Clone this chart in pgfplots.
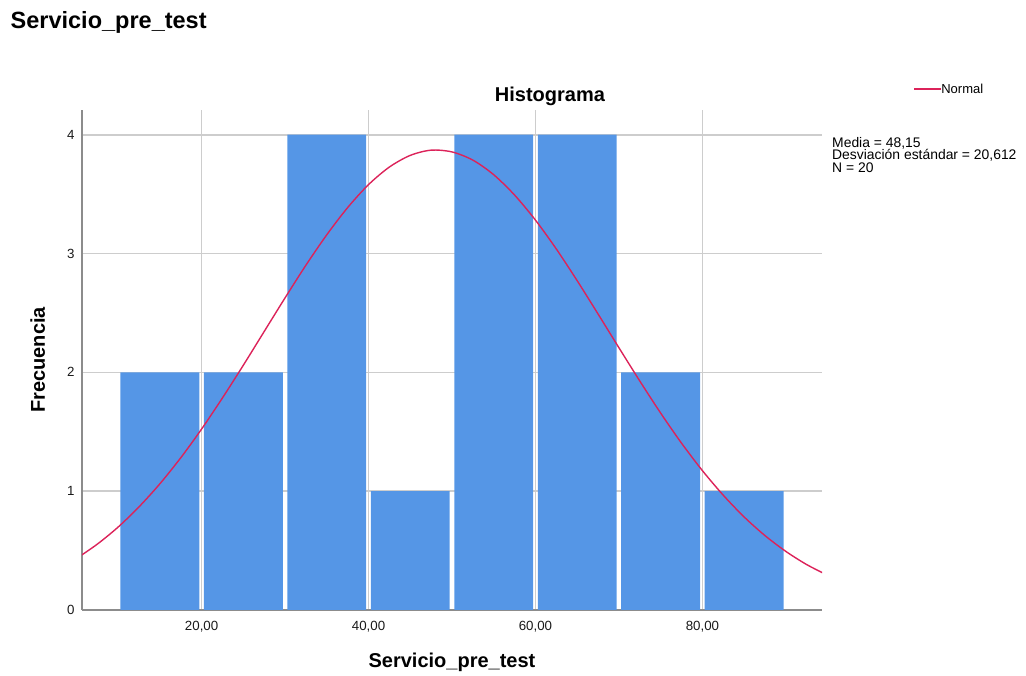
\documentclass[border=0pt]{standalone}
\usepackage{fontspec}
\setmainfont{Liberation Sans}
\usepackage{pgfplots}
\pgfplotsset{compat=1.18}
\definecolor{barblue}{RGB}{85,150,230}
\definecolor{curvered}{RGB}{220,35,90}
\definecolor{gridgray}{RGB}{205,205,205}
\definecolor{axisgray}{RGB}{140,140,140}
\begin{document}
\begin{tikzpicture}[x=1pt,y=1pt]
\path[use as bounding box] (0,0) rectangle (1026,676);
\begin{axis}[
  at={(82pt,66pt)}, anchor=south west,
  scale only axis, width=740pt, height=500pt,
  xmin=5.67, xmax=94.33, ymin=0, ymax=4.208,
  axis x line=bottom, axis y line=left,
  axis line style={-, draw=axisgray, line width=1.6pt},
  xtick={20,40,60,80},
  xticklabels={{20,00},{40,00},{60,00},{80,00}},
  ytick={0,1,2,3,4},
  major tick length=0pt,
  grid=major,
  major grid style={draw=gridgray, line width=1.6pt},
  tick label style={font=\fontsize{13.3}{15}\selectfont, text=black!90},
  /pgf/number format/assume math mode=true,
  xticklabel style={anchor=base, yshift=-20.7pt},
  yticklabel style={anchor=east, xshift=-4pt},
  title={Histograma},
  title style={at={(axis description cs:0.6324,1.004)}, anchor=base, font=\bfseries\fontsize{20}{24}\selectfont},
  xlabel={Servicio\_pre\_test},
  xlabel style={at={(axis description cs:0.5,-0.1146)}, anchor=base, font=\bfseries\fontsize{20}{24}\selectfont},
  ylabel={Frecuencia},
  ylabel style={at={(axis description cs:-0.05,0.5)}, anchor=base, font=\bfseries\fontsize{20}{24}\selectfont},
  legend style={at={(axis description cs:1.123,1.0414)}, anchor=west, draw=none, fill=none,
    inner sep=0pt, font=\fontsize{13}{15}\selectfont, cells={anchor=west},
    /tikz/every odd column/.append style={column sep=-2.5pt}},
  legend image code/.code={\draw[draw=curvered, line width=1.6pt] (0pt,0pt) -- (27pt,0pt);},
]
\addplot[ybar, bar width=9.45, fill=barblue, draw=none, forget plot]
  coordinates {(15,2) (25,2) (35,4) (45,1) (55,4) (65,4) (75,2) (85,1)};
\addplot[smooth, color=curvered, line width=1.4pt, no marks]
  coordinates {
  (5,0.433) (7.5,0.554) (10,0.698) (12.5,0.868) (15,1.062) (17.5,1.281)
  (20,1.523) (22.5,1.785) (25,2.060) (27.5,2.344) (30,2.627) (32.5,2.902)
  (35,3.158) (37.5,3.387) (40,3.580) (42.5,3.728) (45,3.826) (47.5,3.870)
  (50,3.855) (52.5,3.786) (55,3.663) (57.5,3.492) (60,3.281) (62.5,3.038)
  (65,2.771) (67.5,2.491) (70,2.207) (72.5,1.927) (75,1.657) (77.5,1.404)
  (80,1.173) (82.5,0.966) (85,0.783) (87.5,0.626) (90,0.493) (92.5,0.382)
  (95,0.292)};
\addlegendentry{Normal}
\end{axis}
\node[anchor=base west, inner sep=0pt, font=\bfseries\fontsize{23.5}{27}\selectfont] at (10.5,647) {Servicio\_pre\_test};
\node[anchor=base west, inner sep=0pt, font=\fontsize{13.9}{15}\selectfont] at (832,528.7) {Media = 48,15};
\node[anchor=base west, inner sep=0pt, font=\fontsize{13.9}{15}\selectfont] at (832,516) {Desviación estándar = 20,612};
\node[anchor=base west, inner sep=0pt, font=\fontsize{13.9}{15}\selectfont] at (832,503.3) {N = 20};
\end{tikzpicture}
\end{document}
